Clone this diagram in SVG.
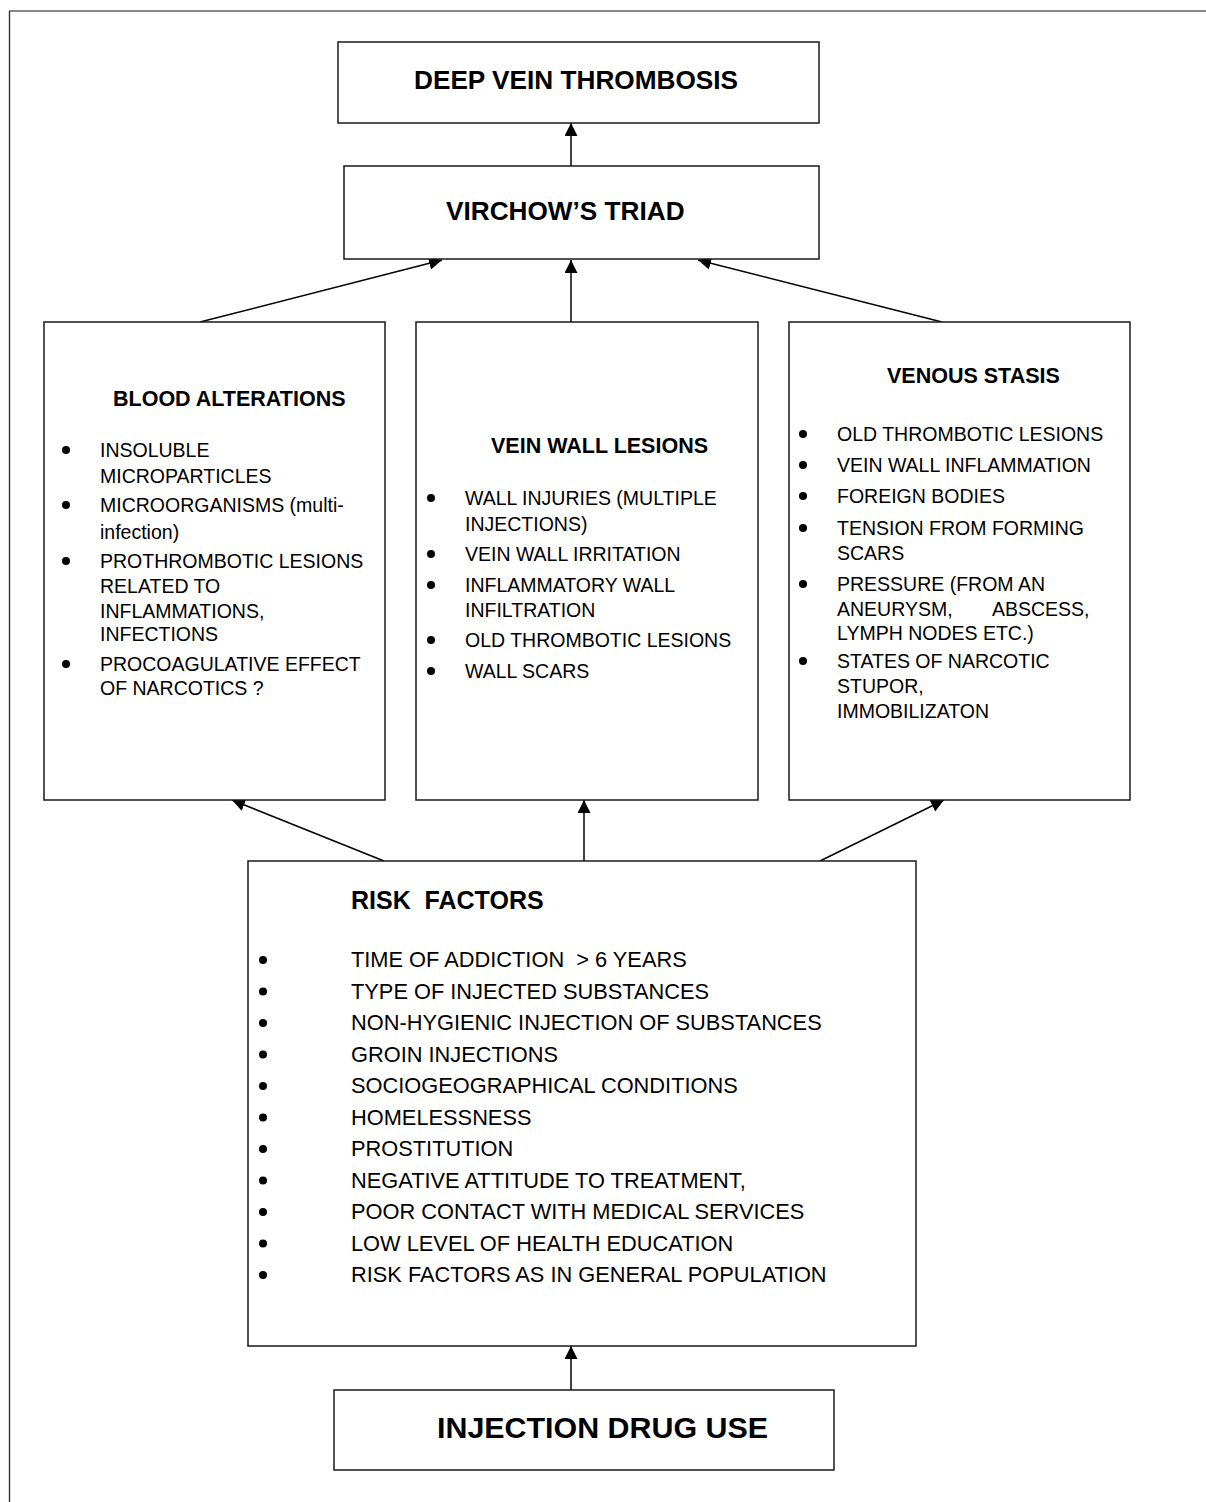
<svg xmlns="http://www.w3.org/2000/svg" width="1206" height="1502" viewBox="0 0 1206 1502">
<style>
.box{fill:#fff;stroke:#1a1a1a;stroke-width:1.5}
.h{font-family:"Liberation Sans",Arial,sans-serif;font-weight:bold;fill:#000}
.t{font-family:"Liberation Sans",Arial,sans-serif;font-size:19.5px;fill:#000}
.r{font-family:"Liberation Sans",Arial,sans-serif;font-size:21.8px;fill:#000}
.c{stroke:#000;stroke-width:1.5;fill:none;marker-end:url(#ah)}
.b{fill:#000}
</style>
<defs>
<marker id="ah" markerUnits="userSpaceOnUse" markerWidth="14" markerHeight="14" viewBox="0 0 14 14" refX="13" refY="6.5" orient="auto">
<path d="M0,0 L13,6.5 L0,13 z" fill="#000"/>
</marker>
</defs>
<rect width="1206" height="1502" fill="#fff"/>
<g id="page-border">
<line x1="9" y1="11" x2="1206" y2="11" stroke="#888" stroke-width="2"/>
<line x1="9.5" y1="11" x2="9.5" y2="1502" stroke="#333" stroke-width="1.4"/>
</g>
<g id="connectors">
<line class="c" x1="571" y1="166" x2="571" y2="123"/>
<line class="c" x1="200" y1="322" x2="442" y2="260"/>
<line class="c" x1="571" y1="322" x2="571" y2="260"/>
<line class="c" x1="942" y1="322" x2="698" y2="260"/>
<line class="c" x1="384" y1="861" x2="232" y2="800"/>
<line class="c" x1="584" y1="861" x2="584" y2="800"/>
<line class="c" x1="820" y1="861" x2="944" y2="800"/>
<line class="c" x1="571" y1="1390" x2="571" y2="1346"/>
</g>
<g id="dvt">
<rect class="box" x="338" y="42" width="481" height="81"/>
<text class="h" x="414" y="89" font-size="26.2">DEEP VEIN THROMBOSIS</text>
</g>
<g id="virchow">
<rect class="box" x="344" y="166" width="475" height="93"/>
<text class="h" x="446" y="220" font-size="26.2">VIRCHOW’S TRIAD</text>
</g>
<g id="blood-alterations">
<rect class="box" x="44" y="322" width="341" height="478"/>
<text class="h" x="113" y="406" font-size="21.5">BLOOD ALTERATIONS</text>
<circle class="b" cx="66" cy="450" r="4"/>
<circle class="b" cx="66" cy="505" r="4"/>
<circle class="b" cx="66" cy="561" r="4"/>
<circle class="b" cx="66" cy="664" r="4"/>
<text class="t" x="100" y="457">INSOLUBLE</text>
<text class="t" x="100" y="483">MICROPARTICLES</text>
<text class="t" x="100" y="512">MICROORGANISMS (multi-</text>
<text class="t" x="100" y="539">infection)</text>
<text class="t" x="100" y="568">PROTHROMBOTIC LESIONS</text>
<text class="t" x="100" y="593">RELATED TO</text>
<text class="t" x="100" y="618">INFLAMMATIONS,</text>
<text class="t" x="100" y="641">INFECTIONS</text>
<text class="t" x="100" y="671">PROCOAGULATIVE EFFECT</text>
<text class="t" x="100" y="695">OF NARCOTICS ?</text>
</g>
<g id="vein-wall-lesions">
<rect class="box" x="416" y="322" width="342" height="478"/>
<text class="h" x="491" y="453" font-size="21.5">VEIN WALL LESIONS</text>
<circle class="b" cx="431" cy="498" r="4"/>
<circle class="b" cx="431" cy="554" r="4"/>
<circle class="b" cx="431" cy="585" r="4"/>
<circle class="b" cx="431" cy="640" r="4"/>
<circle class="b" cx="431" cy="671" r="4"/>
<text class="t" x="465" y="505">WALL INJURIES (MULTIPLE</text>
<text class="t" x="465" y="531">INJECTIONS)</text>
<text class="t" x="465" y="561">VEIN WALL IRRITATION</text>
<text class="t" x="465" y="592">INFLAMMATORY WALL</text>
<text class="t" x="465" y="617">INFILTRATION</text>
<text class="t" x="465" y="647">OLD THROMBOTIC LESIONS</text>
<text class="t" x="465" y="678">WALL SCARS</text>
</g>
<g id="venous-stasis">
<rect class="box" x="789" y="322" width="341" height="478"/>
<text class="h" x="887" y="383" font-size="21.5">VENOUS STASIS</text>
<circle class="b" cx="803" cy="434" r="4"/>
<circle class="b" cx="803" cy="465" r="4"/>
<circle class="b" cx="803" cy="496" r="4"/>
<circle class="b" cx="803" cy="528" r="4"/>
<circle class="b" cx="803" cy="584" r="4"/>
<circle class="b" cx="803" cy="661" r="4"/>
<text class="t" x="837" y="441">OLD THROMBOTIC LESIONS</text>
<text class="t" x="837" y="472">VEIN WALL INFLAMMATION</text>
<text class="t" x="837" y="503">FOREIGN BODIES</text>
<text class="t" x="837" y="535">TENSION FROM FORMING</text>
<text class="t" x="837" y="560">SCARS</text>
<text class="t" x="837" y="591">PRESSURE (FROM AN</text>
<text class="t" x="837" y="616">ANEURYSM,<tspan x="992">ABSCESS,</tspan></text>
<text class="t" x="837" y="640">LYMPH NODES ETC.)</text>
<text class="t" x="837" y="668">STATES OF NARCOTIC</text>
<text class="t" x="837" y="693">STUPOR,</text>
<text class="t" x="837" y="718">IMMOBILIZATON</text>
</g>
<g id="risk-factors">
<rect class="box" x="248" y="861" width="668" height="485"/>
<text class="h" x="351" y="909" font-size="25" xml:space="preserve" style="white-space:pre">RISK  FACTORS</text>
<circle class="b" cx="263" cy="960" r="4"/>
<circle class="b" cx="263" cy="991.5" r="4"/>
<circle class="b" cx="263" cy="1023" r="4"/>
<circle class="b" cx="263" cy="1054.5" r="4"/>
<circle class="b" cx="263" cy="1086" r="4"/>
<circle class="b" cx="263" cy="1117.5" r="4"/>
<circle class="b" cx="263" cy="1149" r="4"/>
<circle class="b" cx="263" cy="1180.5" r="4"/>
<circle class="b" cx="263" cy="1212" r="4"/>
<circle class="b" cx="263" cy="1243.5" r="4"/>
<circle class="b" cx="263" cy="1275" r="4"/>
<text class="r" x="351" y="967" xml:space="preserve" style="white-space:pre">TIME OF ADDICTION  &gt; 6 YEARS</text>
<text class="r" x="351" y="998.5">TYPE OF INJECTED SUBSTANCES</text>
<text class="r" x="351" y="1030">NON-HYGIENIC INJECTION OF SUBSTANCES</text>
<text class="r" x="351" y="1061.5">GROIN INJECTIONS</text>
<text class="r" x="351" y="1093">SOCIOGEOGRAPHICAL CONDITIONS</text>
<text class="r" x="351" y="1124.5">HOMELESSNESS</text>
<text class="r" x="351" y="1156">PROSTITUTION</text>
<text class="r" x="351" y="1187.5">NEGATIVE ATTITUDE TO TREATMENT,</text>
<text class="r" x="351" y="1219">POOR CONTACT WITH MEDICAL SERVICES</text>
<text class="r" x="351" y="1250.5">LOW LEVEL OF HEALTH EDUCATION</text>
<text class="r" x="351" y="1282">RISK FACTORS AS IN GENERAL POPULATION</text>
</g>
<g id="injection-drug-use">
<rect class="box" x="334" y="1390" width="500" height="80"/>
<text class="h" x="437" y="1438" font-size="30.4">INJECTION DRUG USE</text>
</g>
</svg>
